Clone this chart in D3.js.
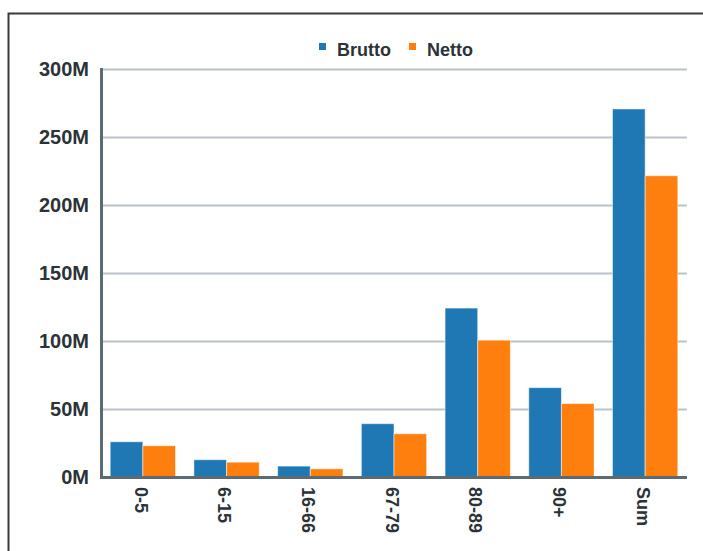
<!DOCTYPE html>
<html>
<head>
<meta charset="utf-8">
<script src="https://cdn.jsdelivr.net/npm/d3@7"></script>
<style>
  html, body { margin: 0; padding: 0; background: #fff; }
  svg { display: block; }
  text { font-family: "Liberation Sans", Arial, sans-serif; font-weight: bold; fill: #2b3338; }
</style>
</head>
<body>
<svg id="chart" width="703" height="551"></svg>
<script>
// Age groups and the two amount series (in millions)
const categories = ["0-5", "6-15", "16-66", "67-79", "80-89", "90+", "Sum"];
const brutto = [25.9, 12.7, 8.0, 39.2, 124.2, 65.7, 270.6];
const netto = [23.0, 10.9, 6.0, 31.8, 100.6, 54.0, 221.5];
const seriesNames = ["Brutto", "Netto"];
const seriesColors = ["#1f77b4", "#ff7f0e"];
const yTicks = [0, 50, 100, 150, 200, 250, 300];

const svg = d3.select("#chart");
const margin = { left: 101, right: 16, top: 69, bottom: 74 };
const W = 703, H = 551;

// frame around the chart
svg.append("rect")
  .attr("x", 8.5).attr("y", 13.5)
  .attr("width", W + 10).attr("height", H + 10)
  .attr("fill", "none").attr("stroke", "#3a3a3a").attr("stroke-width", 2);

const x0 = d3.scaleBand()
  .domain(categories)
  .range([margin.left, W - margin.right])
  .paddingInner(0.22)
  .paddingOuter(0.11);

const x1 = d3.scaleBand()
  .domain(seriesNames)
  .range([0, x0.bandwidth()]);

const y = d3.scaleLinear()
  .domain([0, 300])
  .range([H - margin.bottom, margin.top]);

// horizontal grid
const grid = svg.append("g")
  .attr("transform", `translate(${margin.left},0)`)
  .call(d3.axisLeft(y).tickValues(yTicks).tickSize(-(W - margin.right - margin.left)).tickFormat(""));
grid.select(".domain").remove();
grid.selectAll("line").attr("stroke", "#b8c3cb").attr("stroke-width", 2);

// bars
const rows = categories.map((c, i) => ({ cat: c, values: [brutto[i], netto[i]] }));
const groups = svg.append("g").selectAll("g")
  .data(rows).join("g")
  .attr("transform", d => `translate(${x0(d.cat)},0)`);

groups.selectAll("rect")
  .data(d => d.values.map((v, j) => ({ key: seriesNames[j], v, j })))
  .join("rect")
  .attr("x", d => x1(d.key))
  .attr("y", d => y(d.v))
  .attr("width", x1.bandwidth())
  .attr("height", d => y(0) - y(d.v))
  .attr("fill", d => seriesColors[d.j])
  .attr("stroke", "rgba(255,255,255,0.5)")
  .attr("stroke-width", 1);

// y axis
const yAxis = svg.append("g")
  .attr("transform", `translate(${margin.left},0)`)
  .call(d3.axisLeft(y).tickValues(yTicks).tickSize(0).tickPadding(12).tickFormat(d => d + "M"));
yAxis.select(".domain").remove();
yAxis.selectAll("text").attr("font-size", 20).style("font-family", "'Liberation Sans', Arial, sans-serif").style("font-weight", "bold").attr("fill", "#2b3338");

// x axis
const xAxis = svg.append("g")
  .attr("transform", `translate(0,${y(0)})`)
  .call(d3.axisBottom(x0).tickSize(0).tickPadding(0));
xAxis.select(".domain").remove();
xAxis.selectAll("text")
  .attr("font-size", 18)
  .style("font-family", "'Liberation Sans', Arial, sans-serif")
  .style("font-weight", "bold")
  .attr("fill", "#2b3338")
  .attr("text-anchor", "start")
  .attr("transform", "translate(-2,10) rotate(90)")
  .attr("x", 0).attr("y", 0).attr("dy", "0.35em");

// axis lines
svg.append("line")
  .attr("x1", margin.left + 0.5).attr("x2", margin.left + 0.5)
  .attr("y1", margin.top - 1).attr("y2", y(0) + 2)
  .attr("stroke", "#5e6a72").attr("stroke-width", 3);
svg.append("line")
  .attr("x1", margin.left - 1).attr("x2", W - margin.right)
  .attr("y1", y(0) + 0.5).attr("y2", y(0) + 0.5)
  .attr("stroke", "#5e6a72").attr("stroke-width", 3);

// legend
const legendItems = [
  { name: "Brutto", color: seriesColors[0], x: 319 },
  { name: "Netto", color: seriesColors[1], x: 409 }
];
const lg = svg.append("g").selectAll("g").data(legendItems).join("g")
  .attr("transform", d => `translate(${d.x},0)`);
lg.append("rect").attr("x", 0).attr("y", 43).attr("width", 7).attr("height", 7).attr("fill", d => d.color);
lg.append("text").attr("x", 18).attr("y", 56).attr("font-size", 18).text(d => d.name);
</script>
</body>
</html>
